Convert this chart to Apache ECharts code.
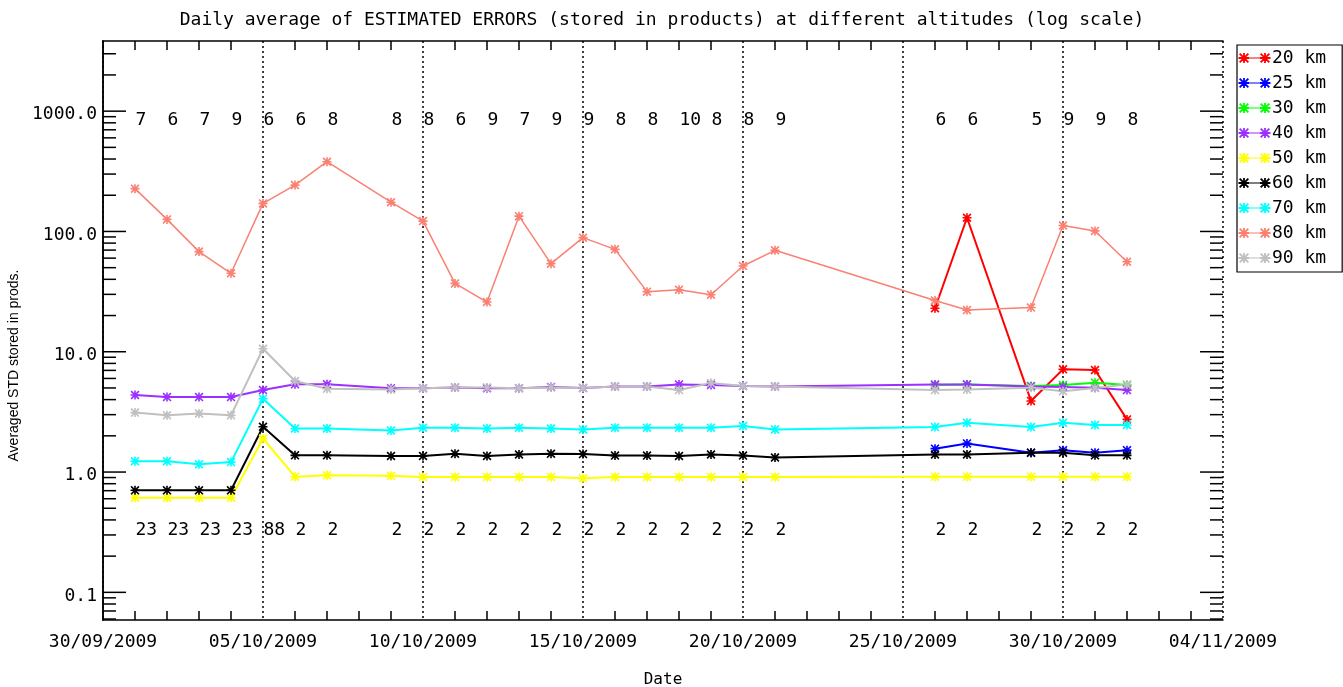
<!DOCTYPE html>
<html>
<head>
<meta charset="utf-8">
<script src="https://cdn.jsdelivr.net/npm/echarts@6/dist/echarts.min.js"></script>
<style>
  html, body { margin: 0; padding: 0; background: #fff; }
  #chart { width: 1343px; height: 687px; }
</style>
</head>
<body>
<div id="chart"></div>
<script>
  // days that have products
  const allDates = [
    '01/10/2009', '02/10/2009', '03/10/2009', '04/10/2009', '05/10/2009', '06/10/2009', '07/10/2009',
    '09/10/2009', '10/10/2009', '11/10/2009', '12/10/2009', '13/10/2009', '14/10/2009', '15/10/2009',
    '16/10/2009', '17/10/2009', '18/10/2009', '19/10/2009', '20/10/2009', '21/10/2009',
    '26/10/2009', '27/10/2009', '29/10/2009', '30/10/2009', '31/10/2009', '01/11/2009'
  ]
  const lateDates = ['26/10/2009', '27/10/2009', '29/10/2009', '30/10/2009', '31/10/2009', '01/11/2009']

  const km20 = [23, 130, 3.9, 7.14, 7.05, 2.74]
  const km25 = [1.565, 1.73, 1.45, 1.52, 1.45, 1.52]
  const km30 = [5.28, 5.35, 5.19, 5.28, 5.53, 5.28]
  const km40 = [4.37, 4.2, 4.2, 4.2, 4.8, 5.36, 5.36, 4.97, 4.97, 5.05, 4.97, 4.97, 5.09, 5.0,
    5.15, 5.15, 5.35, 5.3, 5.2, 5.15, 5.35, 5.35, 5.15, 5.1, 5.03, 4.8]
  const km50 = [0.612, 0.612, 0.612, 0.612, 1.9, 0.916, 0.94, 0.93, 0.91, 0.91, 0.91, 0.91, 0.91, 0.887,
    0.91, 0.91, 0.91, 0.91, 0.91, 0.91, 0.916, 0.916, 0.916, 0.916, 0.916, 0.916]
  const km60 = [0.705, 0.705, 0.705, 0.705, 2.38, 1.377, 1.377, 1.36, 1.36, 1.42, 1.36, 1.4, 1.42, 1.41,
    1.37, 1.37, 1.36, 1.4, 1.37, 1.32, 1.4, 1.4, 1.45, 1.45, 1.377, 1.377]
  const km70 = [1.23, 1.23, 1.16, 1.21, 4.07, 2.3, 2.3, 2.22, 2.34, 2.34, 2.3, 2.34, 2.3, 2.26,
    2.34, 2.34, 2.34, 2.34, 2.41, 2.26, 2.37, 2.57, 2.37, 2.57, 2.46, 2.46]
  const km80 = [227, 126, 68, 44.9, 171, 243, 380, 175, 122, 37, 25.9, 134, 54, 88.8,
    71, 31.6, 32.8, 29.8, 51.6, 69.7, 26.7, 22.2, 23.3, 112, 101, 56]
  const km90 = [3.12, 2.96, 3.07, 2.96, 10.6, 5.71, 4.93, 4.85, 4.97, 5.05, 5.05, 4.97, 5.05, 5.0,
    5.15, 5.15, 4.8, 5.5, 5.2, 5.15, 4.8, 4.85, 5.03, 4.7, 5.0, 5.35]

  // number of products per day (top and bottom rows)
  const topCounts = ['7', '6', '7', '9', '6', '6', '8', '8', '8', '6', '9', '7', '9', '9',
    '8', '8', '10', '8', '8', '9', '6', '6', '5', '9', '9', '8']
  const bottomCounts = ['23', '23', '23', '23', '88', '2', '2', '2', '2', '2', '2', '2', '2', '2',
    '2', '2', '2', '2', '2', '2', '2', '2', '2', '2', '2', '2']

  // y tick marks: decades (long) and 2..9 within each decade (short)
  const decades = [0.01, 0.1, 1, 10, 100, 1000]
  const minorMantissas = [2, 3, 4, 5, 6, 7, 8, 9]

  const START = Date.UTC(2009, 8, 30)
  const DAY = 86400000
  const X_MAX = 35
  const Y_MIN = 0.0589
  const Y_MAX = 3830

  const dayOf = (s) => {
    const [d, m, y] = s.split('/').map(Number)
    return (Date.UTC(y, m - 1, d) - START) / DAY
  }
  const pad = (n) => (n < 10 ? '0' : '') + n
  const dateLabel = (v) => {
    const t = new Date(START + v * DAY)
    return pad(t.getUTCDate()) + '/' + pad(t.getUTCMonth() + 1) + '/' + t.getUTCFullYear()
  }

  // asterisk made of four filled bars, 10x10 box starting at ox
  const star = (ox) =>
    `M${ox + 4.1} 0h1.8v10h-1.8Z M${ox} 4.1h10v1.8h-10Z ` +
    `M${ox + 1.3} 0L${ox + 10} 8.7L${ox + 8.7} 10L${ox} 1.3Z ` +
    `M${ox + 8.7} 0L${ox + 10} 1.3L${ox + 1.3} 10L${ox} 8.7Z`
  const markerPath = 'path://' + star(0)
  const legendPath = 'path://M0 4.4h33v1.2h-33Z ' + star(1) + ' ' + star(22)

  const FONT = 'DejaVu Sans Mono'

  const lines = [
    { name: '20 km', dates: lateDates, values: km20, color: '#ff0000' },
    { name: '25 km', dates: lateDates, values: km25, color: '#0000ff' },
    { name: '30 km', dates: lateDates, values: km30, color: '#00ff00' },
    { name: '40 km', dates: allDates, values: km40, color: '#9b30ff' },
    { name: '50 km', dates: allDates, values: km50, color: '#ffff00' },
    { name: '60 km', dates: allDates, values: km60, color: '#000000' },
    { name: '70 km', dates: allDates, values: km70, color: '#00ffff' },
    { name: '80 km', dates: allDates, values: km80, color: '#fa8072', width: 1.5 },
    { name: '90 km', dates: allDates, values: km90, color: '#c0c0c0' },
  ]

  const tickValues = []
  for (const d of decades) {
    if (d > Y_MIN && d < Y_MAX) tickValues.push([0, d, 23])
    for (const m of minorMantissas) {
      const v = d * m
      if (v > Y_MIN && v < Y_MAX) tickValues.push([0, v, 13])
    }
  }

  const countSeries = (counts, rowValue) => ({
    type: 'scatter',
    silent: true,
    symbolSize: 1,
    itemStyle: { color: 'transparent', opacity: 1 },
    data: allDates.map((d) => [dayOf(d), rowValue]),
    label: {
      show: true,
      position: 'right',
      distance: 0,
      color: '#000',
      opacity: 1,
      fontFamily: FONT,
      fontSize: 18,
      formatter: (p) => counts[p.dataIndex],
    },
    z: 5,
  })

  const xCommon = {
    type: 'value',
    min: 0,
    max: X_MAX,
    interval: 5,
    axisLine: { lineStyle: { color: '#000', width: 1.5 } },
    axisTick: { show: false, inside: true },
    minorTick: { show: true, splitNumber: 5, length: 9, lineStyle: { color: '#000', width: 1.5 } },
  }
  const yCommon = {
    type: 'log',
    logBase: 10,
    min: Y_MIN,
    max: Y_MAX,
    axisLine: { show: true, lineStyle: { color: '#000', width: 1.5 } },
    axisTick: { show: false },
    splitLine: { show: false },
  }

  const option = {
    animation: false,
    backgroundColor: '#fff',
    textStyle: { fontFamily: FONT, color: '#000' },
    title: {
      text: 'Daily average of ESTIMATED ERRORS (stored in products) at different altitudes (log scale)',
      left: 662,
      top: 11,
      padding: 0,
      textAlign: 'center',
      textStyle: { fontFamily: FONT, fontSize: 18, fontWeight: 'normal', color: '#000' },
    },
    legend: {
      orient: 'vertical',
      left: 1237,
      top: 45,
      padding: [4, 16, 5, 1],
      itemWidth: 33,
      itemHeight: 10,
      itemGap: 7,
      icon: legendPath,
      borderColor: '#000',
      borderWidth: 1.2,
      textStyle: { fontFamily: FONT, fontSize: 18, color: '#000', padding: [0, 0, 0, -4] },
      data: lines.map((l) => l.name),
    },
    grid: { left: 103, right: 120, top: 41, bottom: 67, outerBoundsMode: 'none' },
    xAxis: [
      {
        ...xCommon,
        position: 'bottom',
        name: 'Date',
        nameLocation: 'middle',
        nameGap: 52,
        nameTextStyle: { fontFamily: FONT, fontSize: 16, color: '#000' },
        axisLabel: { margin: 13, color: '#000', fontFamily: FONT, fontSize: 18, formatter: dateLabel },
        splitLine: { show: true, lineStyle: { color: '#000', width: 1.5, type: [2, 3] } },
      },
      {
        ...xCommon,
        position: 'top',
        axisLabel: { show: false },
        splitLine: { show: false },
      },
    ],
    yAxis: [
      {
        ...yCommon,
        position: 'left',
        name: 'Averaged STD stored in prods.',
        nameLocation: 'middle',
        nameGap: 70,
        nameTextStyle: { fontFamily: 'Liberation Sans', fontSize: 14, color: '#000', padding: [0, 70, 0, 0] },
        axisLabel: {
          margin: 6,
          color: '#000',
          fontFamily: FONT,
          fontSize: 18,
          showMinLabel: false,
          showMaxLabel: false,
          formatter: (v) => '{v|' + Number(v).toFixed(1) + '}',
          rich: {
            v: { fontFamily: FONT, fontSize: 18, color: '#000', padding: [7, 0, 0, 0] },
          },
        },
      },
      {
        ...yCommon,
        position: 'right',
        axisLabel: { show: false },
      },
    ],
    series: [
      {
        type: 'custom',
        silent: true,
        xAxisIndex: 0,
        yAxisIndex: 0,
        data: tickValues,
        renderItem: (params, api) => {
          const len = api.value(2)
          const l = api.coord([0, api.value(1)])
          const r = api.coord([X_MAX, api.value(1)])
          const st = { stroke: '#000', lineWidth: 1.5 }
          return {
            type: 'group',
            children: [
              { type: 'line', shape: { x1: l[0], y1: l[1], x2: l[0] + len, y2: l[1] }, style: st },
              { type: 'line', shape: { x1: r[0] - len, y1: r[1], x2: r[0], y2: r[1] }, style: st },
            ],
          }
        },
      },
      ...lines.map((l) => ({
        name: l.name,
        type: 'line',
        symbol: markerPath,
        symbolSize: 9,
        showSymbol: true,
        color: l.color,
        itemStyle: { color: l.color },
        lineStyle: { color: l.color, width: l.width || 2 },
        emphasis: { disabled: true },
        data: l.dates.map((d, i) => [dayOf(d), l.values[i]]),
      })),
      countSeries(topCounts, 845),
      countSeries(bottomCounts, 0.33),
    ],
  }

  const chart = echarts.init(document.getElementById('chart'))
  chart.setOption(option)
</script>
</body>
</html>
